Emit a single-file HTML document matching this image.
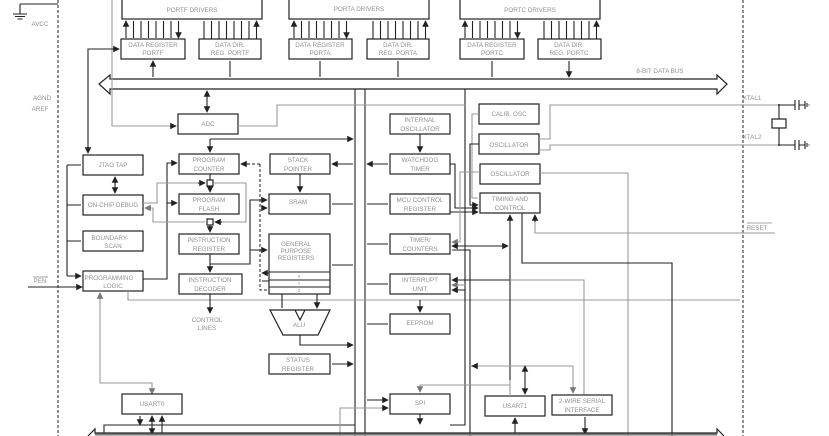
<!DOCTYPE html>
<html><head><meta charset="utf-8"><style>
html,body{margin:0;padding:0;background:#fff;width:829px;height:436px;overflow:hidden}
svg{display:block}
text{font-family:"Liberation Sans",sans-serif;font-size:6.3px;fill:#909090;text-anchor:middle}
.b{fill:#fff;stroke:#222;stroke-width:1.2}
.k{fill:none;stroke:#222;stroke-width:1.1}
.g{fill:none;stroke:#9a9a9a;stroke-width:1.1}
.d{fill:none;stroke:#222;stroke-width:1;stroke-dasharray:3,2}
</style></head><body>
<svg width="829" height="436" viewBox="0 0 829 436" xmlns="http://www.w3.org/2000/svg">
<defs>
<marker id="a" viewBox="0 0 8 8" refX="7" refY="4" markerWidth="6" markerHeight="6" orient="auto-start-reverse"><path d="M0,0L8,4L0,8z" fill="#222"/></marker>
<marker id="ag" viewBox="0 0 8 8" refX="7" refY="4" markerWidth="6" markerHeight="6" orient="auto-start-reverse"><path d="M0,0L8,4L0,8z" fill="#777"/></marker>
</defs>

<line x1="58" y1="0" x2="58" y2="436" class="d"/>
<line x1="743" y1="0" x2="743" y2="436" class="d"/>
<path d="M20,4H58 M20,4V14 M13,14H27 M15,16.5H25 M17.5,19H22.5" class="k"/>
<text x="40" y="26">AVCC</text>
<text x="42" y="100">AGND</text>
<text x="40" y="111">AREF</text>
<text x="40" y="283">PEN</text>
<line x1="33" y1="277" x2="48" y2="277" stroke="#888" stroke-width="0.8"/>
<path d="M28,287H82" class="k" marker-end="url(#a)"/>

<rect x="122" y="-5" width="140" height="24" class="b"/><text x="192" y="12">PORTF DRIVERS</text>
<rect x="289" y="-5" width="140" height="24" class="b"/><text x="359" y="11">PORTA DRIVERS</text>
<rect x="460" y="-5" width="140" height="24" class="b"/><text x="530" y="12">PORTC DRIVERS</text>

<g class="k" stroke-width="1">
<path d="M126,21V38M133.5,21V38M141,21V38M148.5,21V38M156,21V38M163.5,21V38M171,21V38M178.5,21V38" marker-start="url(#a)" marker-end="url(#a)"/>
<path d="M204,39V21M211.5,39V21M219,39V21M226.5,39V21M234,39V21M241.5,39V21M249,39V21M256.5,39V21" marker-end="url(#a)"/>
<path d="M294,21V38M301.5,21V38M309,21V38M316.5,21V38M324,21V38M331.5,21V38M339,21V38M346.5,21V38" marker-start="url(#a)" marker-end="url(#a)"/>
<path d="M373,39V21M380.5,39V21M388,39V21M395.5,39V21M403,39V21M410.5,39V21M418,39V21M425.5,39V21" marker-end="url(#a)"/>
<path d="M465,21V38M472.5,21V38M480,21V38M487.5,21V38M495,21V38M502.5,21V38M510,21V38M517.5,21V38" marker-start="url(#a)" marker-end="url(#a)"/>
<path d="M544,39V21M551.5,39V21M559,39V21M566.5,39V21M574,39V21M581.5,39V21M589,39V21M596.5,39V21" marker-end="url(#a)"/>
</g>

<rect x="121" y="39" width="64" height="20" class="b"/><text x="153" y="47">DATA REGISTER</text><text x="153" y="55">PORTF</text>
<rect x="199" y="39" width="62" height="20" class="b"/><text x="230" y="47">DATA DIR.</text><text x="230" y="55">REG. PORTF</text>
<rect x="289" y="39" width="63" height="20" class="b"/><text x="320" y="47">DATA REGISTER</text><text x="320" y="55">PORTA</text>
<rect x="367" y="39" width="62" height="20" class="b"/><text x="398" y="47">DATA DIR.</text><text x="398" y="55">REG. PORTA</text>
<rect x="460" y="39" width="64" height="20" class="b"/><text x="492" y="47">DATA REGISTER</text><text x="492" y="55">PORTC</text>
<rect x="538" y="39" width="63" height="20" class="b"/><text x="569" y="47">DATA DIR.</text><text x="569" y="55">REG. PORTC</text>

<g class="k">
<path d="M153,61V77M230,61V77M320,61V77M398,61V77M492,61V77M569,61V77" marker-start="url(#a)" marker-end="url(#a)"/>
</g>

<path d="M110,79H717V75L727,84L717,94V89H110V94L99,84L110,75Z" fill="#fff" stroke="#222" stroke-width="1.2"/>
<text x="660" y="73">8-BIT DATA BUS</text>

<path d="M110,89H355V436" class="k" stroke-width="1.3"/>
<path d="M365,436V89H465V300" class="k" stroke-width="1.3"/>

<path d="M112,0V126H176" class="g"/><path d="M170,126H176" class="k" marker-end="url(#a)"/>
<rect x="178" y="114" width="60" height="20" class="b"/><text x="208" y="126">ADC</text>
<path d="M207,91V112" class="k" marker-start="url(#a)" marker-end="url(#a)"/>
<path d="M238,126H277V105H465" class="g"/>

<path d="M88,153V49H119" class="k" marker-start="url(#a)" marker-end="url(#a)"/>

<rect x="83" y="155" width="60" height="20" class="b"/><text x="113" y="167">JTAG TAP</text>
<rect x="83" y="195" width="60" height="20" class="b"/><text x="113" y="207">ON-CHIP DEBUG</text>
<rect x="83" y="231" width="60" height="20" class="b"/><text x="110" y="240">BOUNDARY-</text><text x="113" y="248">SCAN</text>
<rect x="83" y="271" width="60" height="20" class="b"/><text x="109" y="280">PROGRAMMING</text><text x="113" y="288">LOGIC</text>
<path d="M115,177V193" class="k" marker-start="url(#a)" marker-end="url(#a)"/>
<path d="M67,165V276" class="k"/>
<path d="M67,165H81M67,205H81M67,241H81M67,276H81" class="k" marker-end="url(#a)"/>
<path d="M100,293V383H152V394" class="g" marker-start="url(#ag)" marker-end="url(#ag)"/>
<path d="M143,279H167V163H177" class="k" marker-end="url(#a)"/>
<path d="M128,291V300H740" class="g"/>

<rect x="179" y="154" width="60" height="20" class="b"/><text x="209" y="162">PROGRAM</text><text x="209" y="171">COUNTER</text>
<rect x="179" y="194" width="60" height="20" class="b"/><text x="209" y="202">PROGRAM</text><text x="209" y="211">FLASH</text>
<rect x="179" y="234" width="60" height="20" class="b"/><text x="209" y="242">INSTRUCTION</text><text x="209" y="251">REGISTER</text>
<rect x="179" y="274" width="63" height="20" class="b"/><text x="210" y="282">INSTRUCTION</text><text x="210" y="291">DECODER</text>
<text x="207" y="322">CONTROL</text><text x="207" y="330">LINES</text>
<path d="M210,139H353" class="k" marker-end="url(#a)"/>
<path d="M210,139V152" class="k" marker-end="url(#a)"/>
<path d="M167,203H177" class="k" marker-end="url(#a)"/>
<path d="M210,174V180" class="k"/>
<path d="M210,186V192" class="k" marker-end="url(#a)"/>
<path d="M210,225V232" class="k" marker-end="url(#a)"/>
<path d="M210,254V264H250V200H267" class="k" marker-end="url(#a)"/>
<path d="M210,264V272" class="k" marker-end="url(#a)"/>
<path d="M250,250H267" class="k" marker-end="url(#a)"/>
<path d="M210,294V313" class="k" marker-end="url(#a)"/>
<rect x="207" y="180" width="6" height="6" class="b" stroke-width="1"/>
<rect x="207" y="219" width="6" height="6" class="b" stroke-width="1"/>
<path d="M143,203H157V183H205" class="g"/><path d="M198,183H205" class="k" marker-end="url(#a)"/>
<path d="M213,183H246V222H215" class="g"/><path d="M222,222H215" class="k" marker-end="url(#a)"/>
<path d="M205,222H153V208H145" class="g" marker-end="url(#ag)"/>
<path d="M260,164V290H272 M260,164H243" class="d"/>
<path d="M250,164H241" class="k" marker-end="url(#a)"/>
<path d="M262,273H270M262,281H270" class="k" marker-start="url(#a)"/>

<rect x="270" y="154" width="60" height="20" class="b"/><text x="298" y="162">STACK</text><text x="298" y="171">POINTER</text>
<rect x="269" y="194" width="61" height="20" class="b"/><text x="298" y="204">SRAM</text>
<path d="M300,174V192" class="k" marker-end="url(#a)"/>
<path d="M262,208H267" class="k" marker-end="url(#a)"/>
<rect x="269" y="234" width="61" height="60" class="b"/>
<text x="296" y="246">GENERAL</text><text x="296" y="253">PURPOSE</text><text x="296" y="260">REGISTERS</text>
<path d="M269,272H330M269,280H330M269,287H330" class="k"/>
<text x="299" y="278" style="font-size:4.5px">X</text><text x="299" y="285" style="font-size:4.5px">Y</text><text x="299" y="292" style="font-size:4.5px">Z</text>
<path d="M282,294V308M317,294V308" class="k" marker-end="url(#a)"/>
<path d="M270,310H330L318,335H283Z M295,310L300,320L305,310" class="b" stroke-width="1.5"/>
<text x="299" y="327">ALU</text>
<path d="M300,335V345H353" class="k" marker-end="url(#a)"/>
<rect x="269" y="354" width="61" height="20" class="b"/><text x="298" y="362">STATUS</text><text x="298" y="371">REGISTER</text>
<path d="M332,164H353M332,204H353M332,265H353M332,364H353" class="k" marker-start="url(#a)" marker-end="url(#a)"/>

<rect x="390" y="114" width="60" height="20" class="b"/><text x="420" y="122">INTERNAL</text><text x="420" y="131">OSCILLATOR</text>
<rect x="390" y="154" width="60" height="20" class="b"/><text x="420" y="162">WATCHDOG</text><text x="420" y="171">TIMER</text>
<rect x="390" y="194" width="60" height="20" class="b"/><text x="420" y="202">MCU CONTROL</text><text x="420" y="211">REGISTER</text>
<rect x="390" y="234" width="60" height="20" class="b"/><text x="420" y="242">TIMER/</text><text x="420" y="251">COUNTERS</text>
<rect x="390" y="274" width="60" height="20" class="b"/><text x="420" y="282">INTERRUPT</text><text x="420" y="291">UNIT</text>
<rect x="390" y="314" width="60" height="20" class="b"/><text x="420" y="325">EEPROM</text>
<rect x="390" y="394" width="60" height="20" class="b"/><text x="420" y="405">SPI</text>
<path d="M420,134V152" class="k" marker-end="url(#a)"/>
<path d="M420,300V312" class="k" marker-end="url(#a)"/>
<path d="M420,414V424" class="k" marker-end="url(#a)"/>
<path d="M367,164H388M367,204H388M367,244H388M367,284H388M367,324H388M367,400H388" class="k" marker-start="url(#a)" marker-end="url(#a)"/>

<rect x="479" y="104" width="60" height="20" class="b"/><text x="509" y="116">CALIB. OSC</text>
<rect x="479" y="134" width="60" height="20" class="b"/><text x="509" y="147">OSCILLATOR</text>
<rect x="480" y="164" width="60" height="20" class="b"/><text x="510" y="176">OSCILLATOR</text>
<rect x="480" y="193" width="60" height="20" class="b"/><text x="510" y="201">TIMING AND</text><text x="510" y="210">CONTROL</text>
<path d="M479,114H472V198H478" class="g"/>
<path d="M479,144H470V205H478" class="k" marker-end="url(#a)"/>
<path d="M450,164H455V208H478" class="k" marker-end="url(#a)"/>
<path d="M450,212H478" class="k" marker-end="url(#a)"/>
<path d="M480,172H460V242H452" class="g" marker-end="url(#ag)"/>
<path d="M539,139H550V105H780" class="g"/>
<path d="M539,150H550V145H780" class="g"/>
<path d="M540,173H628V436" class="g"/>
<path d="M452,246H508" class="k" marker-start="url(#a)" marker-end="url(#a)"/>
<path d="M452,250H470V436" class="k"/>
<path d="M510,380V215" class="k" marker-end="url(#a)"/>
<path d="M452,280H510" class="k" marker-start="url(#a)"/>
<path d="M510,280H584V395" class="g"/>
<path d="M452,285H466" class="g" marker-start="url(#ag)"/>
<path d="M452,290H465V425H450" class="k" marker-start="url(#a)"/>
<path d="M522,213V263H672V436" class="k"/>
<path d="M535,215V233H775" class="g"/><path d="M535,222V215" class="k" marker-end="url(#a)"/>
<line x1="747" y1="223" x2="772" y2="223" stroke="#888" stroke-width="0.8"/>
<text x="757" y="230">RESET</text>

<text x="752" y="100">XTAL1</text><text x="752" y="139">XTAL2</text>
<path d="M779,105V119 M779,128V145" class="k"/>
<rect x="772" y="119" width="14" height="9" class="b"/>
<circle cx="779" cy="105" r="1" fill="#222"/><circle cx="779" cy="145" r="1" fill="#222"/>
<path d="M780,105H795M795,100V110M799,100V110M799,105H805M805,101V109M807,103V107M809,104.5V105.5" class="k"/>
<path d="M780,145H795M795,140V150M799,140V150M799,145H805M805,141V149M807,143V147M809,144.5V145.5" class="k"/>

<rect x="122" y="394" width="60" height="20" class="b"/><text x="152" y="406">USART0</text>
<rect x="485" y="396" width="60" height="20" class="b"/><text x="515" y="408">USART1</text>
<rect x="552" y="395" width="60" height="20" class="b"/><text x="582" y="403">2-WIRE SERIAL</text><text x="582" y="412">INTERFACE</text>
<path d="M140,416V425" class="k" marker-end="url(#a)"/>
<path d="M152,416V434" class="k" marker-start="url(#a)" marker-end="url(#a)"/>
<path d="M162,434V416" class="k" marker-end="url(#a)"/>
<path d="M104,434V425H355" class="k"/>
<path d="M470,366H525" class="g"/><path d="M477,366H472" class="k" marker-end="url(#a)"/>
<path d="M525,366H573V393" class="g" marker-end="url(#ag)"/>
<path d="M525,366V394" class="k" marker-start="url(#a)" marker-end="url(#a)"/>
<path d="M510,380V396 M510,385H420V392" class="g" marker-end="url(#ag)"/>
<path d="M515,418V434M585,417V434" class="k" marker-start="url(#a)" marker-end="url(#a)"/>
<path d="M388,408H340V436" class="g"/><path d="M382,408H388" class="k" marker-end="url(#a)"/>

<path d="M88,436L95,429V433H717V429L724,436" fill="none" stroke="#222" stroke-width="1.2"/>
<path d="M95,434.5H717" stroke="#777" stroke-width="2"/>
</svg>
</body></html>
